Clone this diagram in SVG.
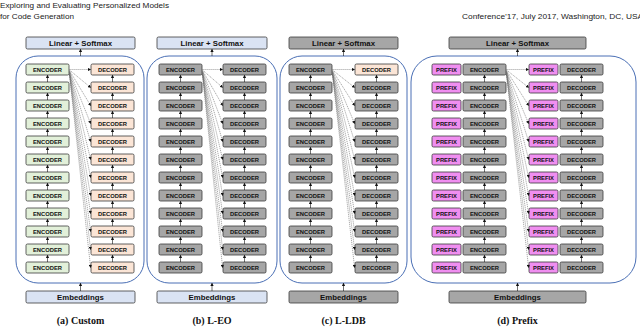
<svg xmlns="http://www.w3.org/2000/svg" xmlns:xlink="http://www.w3.org/1999/xlink" width="640" height="328" viewBox="0 0 640 328">
<style>
.hdr{font-family:"Liberation Sans",Arial,sans-serif;font-size:7.8px;fill:#222}
.box{stroke:#3a3a3a;stroke-width:0.8}
.blue{fill:#dae3f3}.green{fill:#e2f0d9}.orange{fill:#fbe5d6}.gray{fill:#a6a6a6}.pink{fill:#f08ef0}
.bt{font-family:"Liberation Sans",Arial,sans-serif;font-weight:bold;font-size:5.8px;fill:#111;text-anchor:middle}
.big{font-family:"Liberation Sans",Arial,sans-serif;font-weight:bold;font-size:7.8px;fill:#111;text-anchor:middle}
.cap{font-family:"Liberation Serif","Times New Roman",serif;font-weight:bold;font-size:10px;fill:#111;text-anchor:middle}
.cont{fill:#fff;stroke:#4a6fb5;stroke-width:1}
.up{stroke:#111;stroke-width:0.6;marker-end:url(#ah)}
.fan{stroke:#555;stroke-width:0.5;stroke-dasharray:1.2 0.8;fill:none;marker-end:url(#ah)}
</style>
<defs>
<marker id="ah" viewBox="0 0 6 6" refX="5" refY="3" markerWidth="3.2" markerHeight="3.2" markerUnits="userSpaceOnUse" orient="auto"><path d="M0,0 L6,3 L0,6 z" fill="#111"/></marker>
<g id="encA"><rect class="box green" x="0" y="0" width="43" height="11" rx="1.5"/><text class="bt" x="21.5" y="7.6">ENCODER</text></g>
<g id="decA"><rect class="box orange" x="0" y="0" width="43" height="11" rx="1.5"/><text class="bt" x="21.5" y="7.6">DECODER</text></g>
<g id="encG"><rect class="box gray" x="0" y="0" width="43" height="11" rx="1.5"/><text class="bt" x="21.5" y="7.6">ENCODER</text></g>
<g id="decG"><rect class="box gray" x="0" y="0" width="43" height="11" rx="1.5"/><text class="bt" x="21.5" y="7.6">DECODER</text></g>
<g id="decO"><rect class="box orange" x="0" y="0" width="43" height="11" rx="1.5"/><text class="bt" x="21.5" y="7.6">DECODER</text></g>
<g id="pre"><rect class="box pink" x="0" y="0" width="29" height="11" rx="1.5"/><text class="bt" x="14.5" y="7.6">PREFIX</text></g>
</defs>

<g id="header">
<text class="hdr" x="0" y="8" textLength="169" lengthAdjust="spacingAndGlyphs">Exploring and Evaluating Personalized Models</text>
<text class="hdr" x="0" y="19" textLength="74" lengthAdjust="spacingAndGlyphs">for Code Generation</text>
<text class="hdr" x="462" y="19" textLength="181" lengthAdjust="spacingAndGlyphs">Conference’17, July 2017, Washington, DC, USA</text>
</g>

<g id="containers">
<rect class="cont" x="16" y="56" width="128" height="227" rx="22"/>
<rect class="cont" x="147" y="56" width="130" height="227" rx="22"/>
<rect class="cont" x="280" y="56" width="127" height="227" rx="22"/>
<rect class="cont" x="411" y="56" width="225" height="227" rx="26"/>
</g>

<!-- Panel a -->
<g id="a-linear"><rect class="box blue" x="26" y="37" width="109" height="12" rx="1.5"/><text class="big" x="80.5" y="45.8">Linear + Softmax</text></g>
<g id="a-emb"><rect class="box blue" x="26" y="291" width="109" height="12" rx="1.5"/><text class="big" x="80.5" y="299.8">Embeddings</text></g>
<g id="a-enc1"><use href="#encA" x="26" y="64"/></g>
<g id="a-enc2"><use href="#encA" x="26" y="82"/></g>
<g id="a-enc3"><use href="#encA" x="26" y="100"/></g>
<g id="a-enc4"><use href="#encA" x="26" y="118"/></g>
<g id="a-enc5"><use href="#encA" x="26" y="136"/></g>
<g id="a-enc6"><use href="#encA" x="26" y="154"/></g>
<g id="a-enc7"><use href="#encA" x="26" y="172"/></g>
<g id="a-enc8"><use href="#encA" x="26" y="190"/></g>
<g id="a-enc9"><use href="#encA" x="26" y="208"/></g>
<g id="a-enc10"><use href="#encA" x="26" y="226"/></g>
<g id="a-enc11"><use href="#encA" x="26" y="244"/></g>
<g id="a-enc12"><use href="#encA" x="26" y="262"/></g>
<g id="a-dec1"><use href="#decA" x="91" y="64"/></g>
<g id="a-dec2"><use href="#decA" x="91" y="82"/></g>
<g id="a-dec3"><use href="#decA" x="91" y="100"/></g>
<g id="a-dec4"><use href="#decA" x="91" y="118"/></g>
<g id="a-dec5"><use href="#decA" x="91" y="136"/></g>
<g id="a-dec6"><use href="#decA" x="91" y="154"/></g>
<g id="a-dec7"><use href="#decA" x="91" y="172"/></g>
<g id="a-dec8"><use href="#decA" x="91" y="190"/></g>
<g id="a-dec9"><use href="#decA" x="91" y="208"/></g>
<g id="a-dec10"><use href="#decA" x="91" y="226"/></g>
<g id="a-dec11"><use href="#decA" x="91" y="244"/></g>
<g id="a-dec12"><use href="#decA" x="91" y="262"/></g>

<!-- Panel b -->
<g id="b-linear"><rect class="box blue" x="157" y="37" width="110" height="12" rx="1.5"/><text class="big" x="212" y="45.8">Linear + Softmax</text></g>
<g id="b-emb"><rect class="box blue" x="157" y="291" width="110" height="12" rx="1.5"/><text class="big" x="212" y="299.8">Embeddings</text></g>
<g id="b-enc1"><use href="#encG" x="159" y="64"/></g>
<g id="b-enc2"><use href="#encG" x="159" y="82"/></g>
<g id="b-enc3"><use href="#encG" x="159" y="100"/></g>
<g id="b-enc4"><use href="#encG" x="159" y="118"/></g>
<g id="b-enc5"><use href="#encG" x="159" y="136"/></g>
<g id="b-enc6"><use href="#encG" x="159" y="154"/></g>
<g id="b-enc7"><use href="#encG" x="159" y="172"/></g>
<g id="b-enc8"><use href="#encG" x="159" y="190"/></g>
<g id="b-enc9"><use href="#encG" x="159" y="208"/></g>
<g id="b-enc10"><use href="#encG" x="159" y="226"/></g>
<g id="b-enc11"><use href="#encG" x="159" y="244"/></g>
<g id="b-enc12"><use href="#encG" x="159" y="262"/></g>
<g id="b-dec1"><use href="#decG" x="223" y="64"/></g>
<g id="b-dec2"><use href="#decG" x="223" y="82"/></g>
<g id="b-dec3"><use href="#decG" x="223" y="100"/></g>
<g id="b-dec4"><use href="#decG" x="223" y="118"/></g>
<g id="b-dec5"><use href="#decG" x="223" y="136"/></g>
<g id="b-dec6"><use href="#decG" x="223" y="154"/></g>
<g id="b-dec7"><use href="#decG" x="223" y="172"/></g>
<g id="b-dec8"><use href="#decG" x="223" y="190"/></g>
<g id="b-dec9"><use href="#decG" x="223" y="208"/></g>
<g id="b-dec10"><use href="#decG" x="223" y="226"/></g>
<g id="b-dec11"><use href="#decG" x="223" y="244"/></g>
<g id="b-dec12"><use href="#decG" x="223" y="262"/></g>

<!-- Panel c -->
<g id="c-linear"><rect class="box gray" x="289" y="37" width="109" height="12" rx="1.5"/><text class="big" x="343.5" y="45.8">Linear + Softmax</text></g>
<g id="c-emb"><rect class="box gray" x="289" y="291" width="109" height="12" rx="1.5"/><text class="big" x="343.5" y="299.8">Embeddings</text></g>
<g id="c-enc1"><use href="#encG" x="289" y="64"/></g>
<g id="c-enc2"><use href="#encG" x="289" y="82"/></g>
<g id="c-enc3"><use href="#encG" x="289" y="100"/></g>
<g id="c-enc4"><use href="#encG" x="289" y="118"/></g>
<g id="c-enc5"><use href="#encG" x="289" y="136"/></g>
<g id="c-enc6"><use href="#encG" x="289" y="154"/></g>
<g id="c-enc7"><use href="#encG" x="289" y="172"/></g>
<g id="c-enc8"><use href="#encG" x="289" y="190"/></g>
<g id="c-enc9"><use href="#encG" x="289" y="208"/></g>
<g id="c-enc10"><use href="#encG" x="289" y="226"/></g>
<g id="c-enc11"><use href="#encG" x="289" y="244"/></g>
<g id="c-enc12"><use href="#encG" x="289" y="262"/></g>
<g id="c-dec1"><use href="#decO" x="355" y="64"/></g>
<g id="c-dec2"><use href="#decG" x="355" y="82"/></g>
<g id="c-dec3"><use href="#decG" x="355" y="100"/></g>
<g id="c-dec4"><use href="#decG" x="355" y="118"/></g>
<g id="c-dec5"><use href="#decG" x="355" y="136"/></g>
<g id="c-dec6"><use href="#decG" x="355" y="154"/></g>
<g id="c-dec7"><use href="#decG" x="355" y="172"/></g>
<g id="c-dec8"><use href="#decG" x="355" y="190"/></g>
<g id="c-dec9"><use href="#decG" x="355" y="208"/></g>
<g id="c-dec10"><use href="#decG" x="355" y="226"/></g>
<g id="c-dec11"><use href="#decG" x="355" y="244"/></g>
<g id="c-dec12"><use href="#decG" x="355" y="262"/></g>

<!-- Panel d -->
<g id="d-linear"><rect class="box gray" x="449" y="37" width="137" height="12" rx="1.5"/><text class="big" x="517.5" y="45.8">Linear + Softmax</text></g>
<g id="d-emb"><rect class="box gray" x="449" y="291" width="137" height="12" rx="1.5"/><text class="big" x="517.5" y="299.8">Embeddings</text></g>
<g id="d-enc1"><use href="#pre" x="432" y="64"/><use href="#encG" x="463" y="64"/></g>
<g id="d-enc2"><use href="#pre" x="432" y="82"/><use href="#encG" x="463" y="82"/></g>
<g id="d-enc3"><use href="#pre" x="432" y="100"/><use href="#encG" x="463" y="100"/></g>
<g id="d-enc4"><use href="#pre" x="432" y="118"/><use href="#encG" x="463" y="118"/></g>
<g id="d-enc5"><use href="#pre" x="432" y="136"/><use href="#encG" x="463" y="136"/></g>
<g id="d-enc6"><use href="#pre" x="432" y="154"/><use href="#encG" x="463" y="154"/></g>
<g id="d-enc7"><use href="#pre" x="432" y="172"/><use href="#encG" x="463" y="172"/></g>
<g id="d-enc8"><use href="#pre" x="432" y="190"/><use href="#encG" x="463" y="190"/></g>
<g id="d-enc9"><use href="#pre" x="432" y="208"/><use href="#encG" x="463" y="208"/></g>
<g id="d-enc10"><use href="#pre" x="432" y="226"/><use href="#encG" x="463" y="226"/></g>
<g id="d-enc11"><use href="#pre" x="432" y="244"/><use href="#encG" x="463" y="244"/></g>
<g id="d-enc12"><use href="#pre" x="432" y="262"/><use href="#encG" x="463" y="262"/></g>
<g id="d-dec1"><use href="#pre" x="529" y="64"/><use href="#decG" x="560" y="64"/></g>
<g id="d-dec2"><use href="#pre" x="529" y="82"/><use href="#decG" x="560" y="82"/></g>
<g id="d-dec3"><use href="#pre" x="529" y="100"/><use href="#decG" x="560" y="100"/></g>
<g id="d-dec4"><use href="#pre" x="529" y="118"/><use href="#decG" x="560" y="118"/></g>
<g id="d-dec5"><use href="#pre" x="529" y="136"/><use href="#decG" x="560" y="136"/></g>
<g id="d-dec6"><use href="#pre" x="529" y="154"/><use href="#decG" x="560" y="154"/></g>
<g id="d-dec7"><use href="#pre" x="529" y="172"/><use href="#decG" x="560" y="172"/></g>
<g id="d-dec8"><use href="#pre" x="529" y="190"/><use href="#decG" x="560" y="190"/></g>
<g id="d-dec9"><use href="#pre" x="529" y="208"/><use href="#decG" x="560" y="208"/></g>
<g id="d-dec10"><use href="#pre" x="529" y="226"/><use href="#decG" x="560" y="226"/></g>
<g id="d-dec11"><use href="#pre" x="529" y="244"/><use href="#decG" x="560" y="244"/></g>
<g id="d-dec12"><use href="#pre" x="529" y="262"/><use href="#decG" x="560" y="262"/></g>

<g id="captions">
<text class="cap" x="80.5" y="324">(a) Custom</text>
<text class="cap" x="212" y="324">(b) L-EO</text>
<text class="cap" x="343.5" y="324">(c) L-LDB</text>
<text class="cap" x="517.5" y="324">(d) Prefix</text>
</g>

<g id="connectors">
<path class="up" d="M80.5,56 V49.3"/>
<path class="up" d="M80.5,291 V283.3"/>
<g id="a-up">
<path class="up" d="M47.5,82 V75.3"/><path class="up" d="M47.5,100 V93.3"/><path class="up" d="M47.5,118 V111.3"/><path class="up" d="M47.5,136 V129.3"/><path class="up" d="M47.5,154 V147.3"/><path class="up" d="M47.5,172 V165.3"/><path class="up" d="M47.5,190 V183.3"/><path class="up" d="M47.5,208 V201.3"/><path class="up" d="M47.5,226 V219.3"/><path class="up" d="M47.5,244 V237.3"/><path class="up" d="M47.5,262 V255.3"/>
<path class="up" d="M112.5,82 V75.3"/><path class="up" d="M112.5,100 V93.3"/><path class="up" d="M112.5,118 V111.3"/><path class="up" d="M112.5,136 V129.3"/><path class="up" d="M112.5,154 V147.3"/><path class="up" d="M112.5,172 V165.3"/><path class="up" d="M112.5,190 V183.3"/><path class="up" d="M112.5,208 V201.3"/><path class="up" d="M112.5,226 V219.3"/><path class="up" d="M112.5,244 V237.3"/><path class="up" d="M112.5,262 V255.3"/>
</g>
<g id="a-fan">
<path class="fan" d="M69.5,69.5 L90.6,69.5"/><path class="fan" d="M69.5,70 L90.6,87.5"/><path class="fan" d="M69.5,70.5 L90.6,105.5"/><path class="fan" d="M69.5,71 L90.6,123.5"/><path class="fan" d="M69.5,71.5 L90.6,141.5"/><path class="fan" d="M69.5,72 L90.6,159.5"/><path class="fan" d="M69.5,72.5 L90.6,177.5"/><path class="fan" d="M69.5,73 L90.6,195.5"/><path class="fan" d="M69.5,73.5 L90.6,213.5"/><path class="fan" d="M69.5,74 L90.6,231.5"/><path class="fan" d="M69.5,74.5 L90.6,249.5"/><path class="fan" d="M69.5,75 L90.6,267.5"/>
</g>
<path class="up" d="M212,56 V49.3"/>
<path class="up" d="M212,291 V283.3"/>
<g id="b-up">
<path class="up" d="M180.5,82 V75.3"/><path class="up" d="M180.5,100 V93.3"/><path class="up" d="M180.5,118 V111.3"/><path class="up" d="M180.5,136 V129.3"/><path class="up" d="M180.5,154 V147.3"/><path class="up" d="M180.5,172 V165.3"/><path class="up" d="M180.5,190 V183.3"/><path class="up" d="M180.5,208 V201.3"/><path class="up" d="M180.5,226 V219.3"/><path class="up" d="M180.5,244 V237.3"/><path class="up" d="M180.5,262 V255.3"/>
<path class="up" d="M244.5,82 V75.3"/><path class="up" d="M244.5,100 V93.3"/><path class="up" d="M244.5,118 V111.3"/><path class="up" d="M244.5,136 V129.3"/><path class="up" d="M244.5,154 V147.3"/><path class="up" d="M244.5,172 V165.3"/><path class="up" d="M244.5,190 V183.3"/><path class="up" d="M244.5,208 V201.3"/><path class="up" d="M244.5,226 V219.3"/><path class="up" d="M244.5,244 V237.3"/><path class="up" d="M244.5,262 V255.3"/>
</g>
<g id="b-fan">
<path class="fan" d="M202.5,69.5 L222.6,69.5"/><path class="fan" d="M202.5,70 L222.6,87.5"/><path class="fan" d="M202.5,70.5 L222.6,105.5"/><path class="fan" d="M202.5,71 L222.6,123.5"/><path class="fan" d="M202.5,71.5 L222.6,141.5"/><path class="fan" d="M202.5,72 L222.6,159.5"/><path class="fan" d="M202.5,72.5 L222.6,177.5"/><path class="fan" d="M202.5,73 L222.6,195.5"/><path class="fan" d="M202.5,73.5 L222.6,213.5"/><path class="fan" d="M202.5,74 L222.6,231.5"/><path class="fan" d="M202.5,74.5 L222.6,249.5"/><path class="fan" d="M202.5,75 L222.6,267.5"/>
</g>
<path class="up" d="M343.5,56 V49.3"/>
<path class="up" d="M343.5,291 V283.3"/>
<g id="c-up">
<path class="up" d="M310.5,82 V75.3"/><path class="up" d="M310.5,100 V93.3"/><path class="up" d="M310.5,118 V111.3"/><path class="up" d="M310.5,136 V129.3"/><path class="up" d="M310.5,154 V147.3"/><path class="up" d="M310.5,172 V165.3"/><path class="up" d="M310.5,190 V183.3"/><path class="up" d="M310.5,208 V201.3"/><path class="up" d="M310.5,226 V219.3"/><path class="up" d="M310.5,244 V237.3"/><path class="up" d="M310.5,262 V255.3"/>
<path class="up" d="M376.5,82 V75.3"/><path class="up" d="M376.5,100 V93.3"/><path class="up" d="M376.5,118 V111.3"/><path class="up" d="M376.5,136 V129.3"/><path class="up" d="M376.5,154 V147.3"/><path class="up" d="M376.5,172 V165.3"/><path class="up" d="M376.5,190 V183.3"/><path class="up" d="M376.5,208 V201.3"/><path class="up" d="M376.5,226 V219.3"/><path class="up" d="M376.5,244 V237.3"/><path class="up" d="M376.5,262 V255.3"/>
</g>
<g id="c-fan">
<path class="fan" d="M332.5,69.5 L354.6,69.5"/><path class="fan" d="M332.5,70 L354.6,87.5"/><path class="fan" d="M332.5,70.5 L354.6,105.5"/><path class="fan" d="M332.5,71 L354.6,123.5"/><path class="fan" d="M332.5,71.5 L354.6,141.5"/><path class="fan" d="M332.5,72 L354.6,159.5"/><path class="fan" d="M332.5,72.5 L354.6,177.5"/><path class="fan" d="M332.5,73 L354.6,195.5"/><path class="fan" d="M332.5,73.5 L354.6,213.5"/><path class="fan" d="M332.5,74 L354.6,231.5"/><path class="fan" d="M332.5,74.5 L354.6,249.5"/><path class="fan" d="M332.5,75 L354.6,267.5"/>
</g>
<path class="up" d="M517.5,56 V49.3"/>
<path class="up" d="M517.5,291 V283.3"/>
<g id="d-up">
<path class="up" d="M484.5,82 V75.3"/><path class="up" d="M484.5,100 V93.3"/><path class="up" d="M484.5,118 V111.3"/><path class="up" d="M484.5,136 V129.3"/><path class="up" d="M484.5,154 V147.3"/><path class="up" d="M484.5,172 V165.3"/><path class="up" d="M484.5,190 V183.3"/><path class="up" d="M484.5,208 V201.3"/><path class="up" d="M484.5,226 V219.3"/><path class="up" d="M484.5,244 V237.3"/><path class="up" d="M484.5,262 V255.3"/>
<path class="up" d="M581.5,82 V75.3"/><path class="up" d="M581.5,100 V93.3"/><path class="up" d="M581.5,118 V111.3"/><path class="up" d="M581.5,136 V129.3"/><path class="up" d="M581.5,154 V147.3"/><path class="up" d="M581.5,172 V165.3"/><path class="up" d="M581.5,190 V183.3"/><path class="up" d="M581.5,208 V201.3"/><path class="up" d="M581.5,226 V219.3"/><path class="up" d="M581.5,244 V237.3"/><path class="up" d="M581.5,262 V255.3"/>
</g>
<g id="d-fan">
<path class="fan" d="M506.5,69.5 L528.6,69.5"/><path class="fan" d="M506.5,70 L528.6,87.5"/><path class="fan" d="M506.5,70.5 L528.6,105.5"/><path class="fan" d="M506.5,71 L528.6,123.5"/><path class="fan" d="M506.5,71.5 L528.6,141.5"/><path class="fan" d="M506.5,72 L528.6,159.5"/><path class="fan" d="M506.5,72.5 L528.6,177.5"/><path class="fan" d="M506.5,73 L528.6,195.5"/><path class="fan" d="M506.5,73.5 L528.6,213.5"/><path class="fan" d="M506.5,74 L528.6,231.5"/><path class="fan" d="M506.5,74.5 L528.6,249.5"/><path class="fan" d="M506.5,75 L528.6,267.5"/>
</g>
</g>
</svg>
